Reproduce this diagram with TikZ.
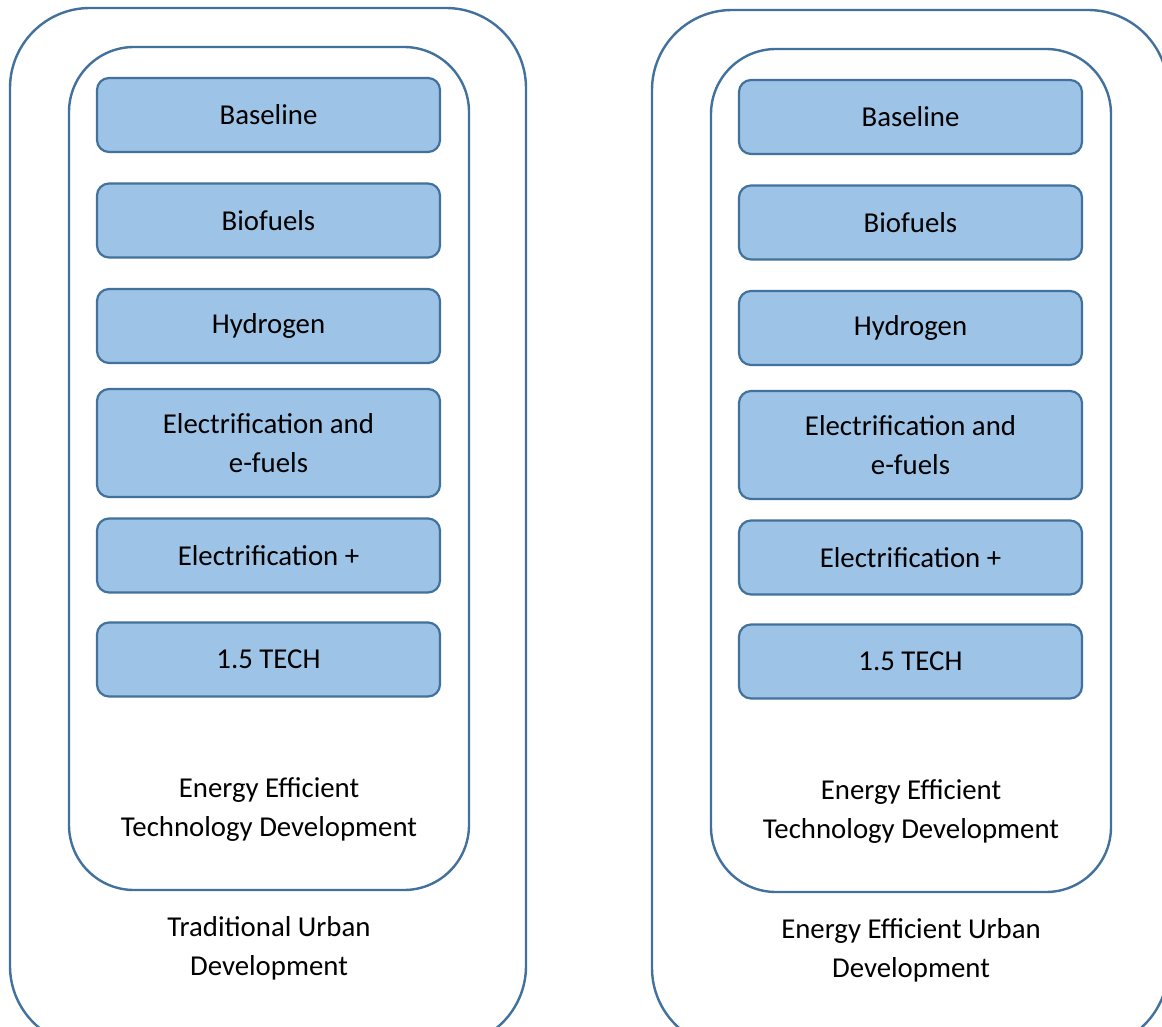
\documentclass[tikz,border=0pt]{standalone}
\usepackage{fontspec}
\setmainfont{Carlito}
\usepackage{xcolor}
\usetikzlibrary{positioning}
\definecolor{edgeblue}{HTML}{41719C}
\definecolor{fillblue}{HTML}{9DC3E6}

\begin{document}
\begin{tikzpicture}[
    x=0.5pt, y=-0.5pt,
    urban/.style={draw=edgeblue, line width=1.2pt, rounded corners=40pt, minimum width=258pt, minimum height=519pt, inner sep=0pt},
    techno/.style={draw=edgeblue, line width=1.2pt, rounded corners=32.5pt, minimum width=200pt, minimum height=421.5pt, inner sep=0pt},
    scen/.style={draw=edgeblue, fill=fillblue, line width=1.1pt, rounded corners=6pt, minimum width=171.5pt, minimum height=#1, inner sep=0pt, align=center, font=\fontsize{14.4}{19.5}\selectfont},
    scen/.default=37pt,
    caption/.style={align=center, font=\fontsize{14.4}{19.5}\selectfont}
]
\clip (0,0) rectangle (1162,1027);

% Traditional urban development
\node[urban] (tud) at (268,527) {};
\node[techno] (tudtech) at (269,468.5) {};
\node[scen] (tudbase) at (268.5,115) {Baseline};
\node[scen] (tudbio) at (268.5,220.5) {Biofuels};
\node[scen] (tudhyd) at (268.5,326) {Hydrogen};
\node[scen=54pt] (tudelec) at (268.5,443) {Electrification and\\e-fuels};
\node[scen] (tudplus) at (268.5,555.5) {Electrification +};
\node[scen] (tudtech15) at (268.5,659.5) {1.5 TECH};
\node[caption] (tudtechlbl) at (269,809.5) {Energy Efficient\\Technology Development};
\node[caption] (tudlbl) at (269,948.5) {Traditional Urban\\Development};

% Energy efficient urban development
\node[urban] (eud) at (910,529) {};
\node[techno] (eudtech) at (911,470.5) {};
\node[scen] (eudbase) at (910.5,117) {Baseline};
\node[scen] (eudbio) at (910.5,222.5) {Biofuels};
\node[scen] (eudhyd) at (910.5,328) {Hydrogen};
\node[scen=54pt] (eudelec) at (910.5,445) {Electrification and\\e-fuels};
\node[scen] (eudplus) at (910.5,557.5) {Electrification +};
\node[scen] (eudtech15) at (910.5,661.5) {1.5 TECH};
\node[caption] (eudtechlbl) at (911,811.5) {Energy Efficient\\Technology Development};
\node[caption] (eudlbl) at (911,950.5) {Energy Efficient Urban\\Development};

\end{tikzpicture}
\end{document}
